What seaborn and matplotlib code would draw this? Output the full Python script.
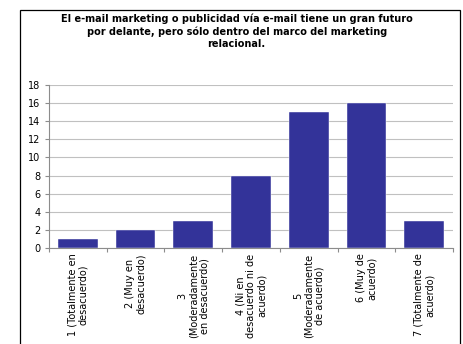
import matplotlib
matplotlib.use("Agg")
import matplotlib.pyplot as plt
import seaborn as sns
import pandas as pd
from matplotlib.patches import Rectangle
from matplotlib.ticker import FixedLocator

categories = [
    "1 (Totalmente en\ndesacuerdo)",
    "2 (Muy en\ndesacuerdo)",
    "3\n(Moderadamente\nen desacuerdo)",
    "4 (Ni en\ndesacuerdo ni de\nacuerdo)",
    "5\n(Moderadamente\nde acuerdo)",
    "6 (Muy de\nacuerdo)",
    "7 (Totalmente de\nacuerdo)",
]
values = [1, 2, 3, 8, 15, 16, 3]
y_ticks = [0, 2, 4, 6, 8, 10, 12, 14, 16, 18]
title = ("El e-mail marketing o publicidad vía e-mail tiene un gran futuro\n"
         "por delante, pero sólo dentro del marco del marketing\n"
         "relacional.")

sns.set_style("white")
plt.rcParams["font.family"] = ["DejaVu Sans"]
plt.rcParams["text.color"] = "black"
plt.rcParams["xtick.color"] = "black"
plt.rcParams["ytick.color"] = "black"

W, H = 464, 344
fig = plt.figure(figsize=(W / 100, H / 100), dpi=100)
fig.patch.set_facecolor("white")

# outer chart border
fig.add_artist(Rectangle((20 / W, -0.05), 440 / W, 1 - 10 / H + 0.05,
                         transform=fig.transFigure, fill=False,
                         edgecolor="black", linewidth=0.9))

ax = fig.add_axes([49 / W, 1 - 248 / H, (453 - 49) / W, (248 - 85) / H])
df = pd.DataFrame({"cat": categories, "val": values})
sns.barplot(data=df, x="cat", y="val", color="#333399", saturation=1,
            width=0.69, ax=ax, edgecolor="white", linewidth=0.3)

ax.set_ylim(0, 18)
ax.set_xlim(-0.5, len(categories) - 0.5)
ax.set_yticks(y_ticks)
ax.yaxis.grid(True, color="#c0c0c0", linewidth=0.8)
ax.set_axisbelow(True)
ax.set_xlabel("")
ax.set_ylabel("")

for s in ["top", "right"]:
    ax.spines[s].set_visible(False)
for s in ["left", "bottom"]:
    ax.spines[s].set_color("#8c8c8c")
    ax.spines[s].set_linewidth(0.8)

ax.tick_params(axis="y", which="major", length=3, width=0.8, color="#8c8c8c",
               labelcolor="black", labelsize=7, pad=3, left=True)
ax.tick_params(axis="x", which="major", length=0, labelsize=7, pad=4,
               labelcolor="black")
ax.xaxis.set_minor_locator(FixedLocator([i - 0.5 for i in range(len(categories) + 1)]))
ax.tick_params(axis="x", which="minor", length=3, width=0.8, color="#8c8c8c",
               bottom=True)
for lab in ax.get_xticklabels():
    lab.set_rotation(90)
    lab.set_ha("center")
    lab.set_va("top")
    lab.set_multialignment("center")
    lab.set_linespacing(1.1)

fig.text(0.51, 1 - 14 / H, title, ha="center", va="top", fontsize=7.0,
         fontweight="bold", linespacing=1.25, color="black")

fig.savefig("out.png", dpi=100)
